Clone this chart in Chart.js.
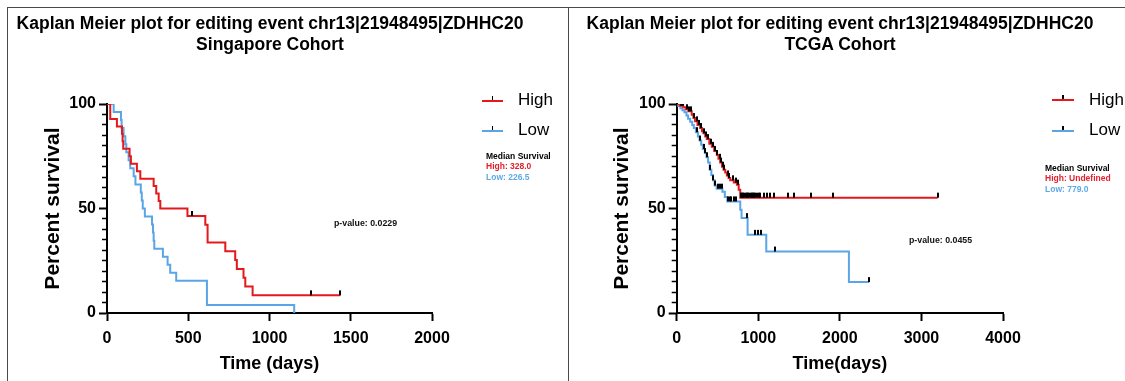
<!DOCTYPE html>
<html><head><meta charset="utf-8">
<script src="https://cdn.jsdelivr.net/npm/chart.js@4.4.0/dist/chart.umd.min.js"></script>
<style>
html,body{margin:0;padding:0;background:#fff;}
body{width:1125px;height:381px;position:relative;overflow:hidden;font-family:"Liberation Sans",Arial,Helvetica,sans-serif;}
canvas{position:absolute;top:0;}
#c1{left:0px;}
#c2{left:568px;}
.frame{position:absolute;border:0 solid #4a4a4a;pointer-events:none;}
.t{position:absolute;white-space:nowrap;color:#000;}
.title{font-weight:bold;font-size:17.5px;line-height:21px;text-align:center;transform:translateX(-50%);}
.leg{font-size:17px;line-height:20px;}
.med{font-weight:bold;font-size:8.5px;line-height:10.8px;}
.pv{font-weight:bold;font-size:8.8px;line-height:11px;color:#111;}
.ln{position:absolute;height:2px;}
.tk{position:absolute;width:1.6px;height:4px;background:#000;}
</style></head>
<body>
<canvas id="c1" width="568" height="381"></canvas>
<canvas id="c2" width="557" height="381"></canvas>

<div class="frame" style="left:7px;top:7px;width:560px;height:380px;border-left-width:1.5px;border-top-width:1.5px;border-right-width:1.5px;"></div>
<div class="frame" style="left:568px;top:7px;width:560px;height:380px;border-top-width:1.5px;"></div>

<div class="t title" style="left:270px;top:12.5px;">Kaplan Meier plot for editing event chr13|21948495|ZDHHC20<br>Singapore Cohort</div>
<div class="t title" style="left:840px;top:12.5px;">Kaplan Meier plot for editing event chr13|21948495|ZDHHC20<br>TCGA Cohort</div>

<div class="ln" style="left:482px;top:99.7px;width:21px;background:#e3191c;"></div>
<div class="tk" style="left:491.7px;top:96px;"></div>
<div class="t leg" style="left:518px;top:90px;">High</div>
<div class="ln" style="left:482px;top:129.7px;width:21px;background:#5aa5e8;"></div>
<div class="tk" style="left:491.7px;top:126px;"></div>
<div class="t leg" style="left:518px;top:120px;">Low</div>
<div class="t med" style="left:486px;top:150.6px;">Median Survival<br><span style="color:#e0212e">High: 328.0</span><br><span style="color:#5ea8e8">Low: 226.5</span></div>
<div class="t pv" style="left:334px;top:217.5px;">p-value: 0.0229</div>

<div class="ln" style="left:1052px;top:98.5px;width:22px;background:#e3191c;"></div>
<div class="tk" style="left:1062.2px;top:94.8px;"></div>
<div class="t leg" style="left:1089px;top:90px;">High</div>
<div class="ln" style="left:1052px;top:129.7px;width:22px;background:#5aa5e8;"></div>
<div class="tk" style="left:1062.2px;top:126px;"></div>
<div class="t leg" style="left:1089px;top:120px;">Low</div>
<div class="t med" style="left:1045px;top:162.6px;">Median Survival<br><span style="color:#e0212e">High: Undefined</span><br><span style="color:#5ea8e8">Low: 779.0</span></div>
<div class="t pv" style="left:909px;top:234.5px;">p-value: 0.0455</div>

<script>
// ---------- Singapore cohort ----------
const SG_HIGH_TIME = [0,20,61,92,96,100,139,147,184,205,287,303,318,328,495,605,619,728,789,799,840,851,896,1435];
const SG_HIGH_SURV = [100,92.86,89.29,85.71,82.14,78.57,75.0,71.43,67.86,64.29,60.71,57.14,53.57,50.0,46.43,42.21,33.77,29.55,25.33,21.11,16.88,12.66,8.44,8.44];
const SG_HIGH_CENSOR = [520,1256,1435];

const SG_LOW_TIME = [0,41,86,90,102,113,119,133,143,164,175,208,214,220,233,277,283,287,291,344,373,389,426,615,1152];
const SG_LOW_SURV = [100,96.15,92.31,88.46,84.62,80.77,76.92,73.08,69.23,65.38,61.54,57.69,53.85,50.0,46.15,42.31,38.46,34.62,30.77,26.92,23.08,19.23,15.38,3.85,0];
const SG_LOW_CENSOR = [];

// ---------- TCGA cohort ----------
const TCGA_HIGH_TIME = [0,40,80,110,143,184,205,225,255,287,310,328,350,369,400,431,460,492,512,533,555,574,595,615,636,656,700,738,760,779,3200];
const TCGA_HIGH_SURV = [100,99.2,98.4,97.5,96.5,94.9,93.3,91.7,90,88.5,87,86,84.5,83.2,81,79.5,77.5,75.6,73.8,72,70,68.6,67.2,65.8,64.6,63.5,62.4,61.4,59,55.2,55.2];
const TCGA_HIGH_CENSOR = [8,18,28,38,55,65,75,130,155,170,215,245,270,300,335,360,385,415,445,475,500,525,545,565,585,625,645,690,725,750,790,805,815,830,845,860,875,890,905,920,935,950,965,985,1005,1025,1066,1107,1148,1189,1366,1435,1648,1919,3200];

const TCGA_LOW_TIME = [0,20,45,70,95,120,140,165,190,210,235,260,280,300,320,345,365,385,405,425,445,465,490,560,590,620,779,795,869,1098,2111,2357];
const TCGA_LOW_SURV = [100,99,98,97,96,94.5,93,91.5,90,88.5,86.5,84.5,82.5,80.5,78.5,76.5,74.5,72,68.5,66,63.5,61,59.5,58,55.5,53.4,49.4,45.4,37.4,29.4,14.8,14.8];
const TCGA_LOW_CENSOR = [250,290,330,350,370,410,450,470,510,530,550,630,650,665,700,725,861,963,996,1037,1209,2357];

// axis ticks
const SG_X_MAX = 2000, SG_X_STEP = 500;
const TCGA_X_MAX = 4000, TCGA_X_STEP = 1000;
const Y_MAX = 100, Y_MINOR_STEP = 5;
const Y_LABELS = [0, 50, 100];

const RED = '#e3191c', BLUE = '#5aa5e8';
const FONT = '"Liberation Sans", Arial, Helvetica, sans-serif';

function pts(times, surv){ return times.map((t,i)=>({x:t,y:surv[i]})); }
// survival level of a step curve at time t (used to place censor ticks on the curve)
function levelAt(times, surv, t){ let s = surv[0]; for (let i=0;i<times.length;i++){ if (times[i] <= t) s = surv[i]; } return s; }
function censorPts(cens, times, surv){ return cens.map(t=>({x:t,y:levelAt(times,surv,t)})); }

function tickImg(h){
  const c = document.createElement('canvas');
  c.width = 2; c.height = h*2+2;
  const g = c.getContext('2d');
  g.fillStyle = '#000'; g.fillRect(0,1,2,h);
  return c;
}
const TICK = tickImg(5);
const isMajor = ctx => ctx.tick && Y_LABELS.includes(ctx.tick.value);

function makeChart(id, cfg){
  const ds = [];
  ds.push({label:'High censored', data:censorPts(cfg.hc,cfg.ht,cfg.hs), showLine:false, pointStyle:TICK, pointRadius:3, pointHoverRadius:3, borderColor:'#000', backgroundColor:'#000'});
  if (cfg.lc.length) ds.push({label:'Low censored', data:censorPts(cfg.lc,cfg.lt,cfg.ls), showLine:false, pointStyle:TICK, pointRadius:3, pointHoverRadius:3, borderColor:'#000', backgroundColor:'#000'});
  ds.push({label:'High', data:pts(cfg.ht,cfg.hs), stepped:true, borderColor:RED, borderWidth:2, pointRadius:0, fill:false, borderJoinStyle:'miter', borderCapStyle:'butt'});
  ds.push({label:'Low', data:pts(cfg.lt,cfg.ls), stepped:true, borderColor:BLUE, borderWidth:2, pointRadius:0, fill:false, borderJoinStyle:'miter', borderCapStyle:'butt'});
  return new Chart(document.getElementById(id), {
    type:'line',
    data:{datasets:ds},
    options:{
      responsive:false, animation:false, devicePixelRatio:1,
      layout:{padding:{left:0, top:104, right:cfg.padRight, bottom:0}},
      plugins:{legend:{display:false}, tooltip:{enabled:false}, title:{display:false}},
      scales:{
        x:{type:'linear', min:0, max:cfg.xmax,
           ticks:{stepSize:cfg.xstep, color:'#000', font:{family:FONT, size:16, weight:'bold'}, padding:8, maxRotation:0, autoSkip:false, callback:v=>String(v)},
           grid:{drawOnChartArea:false, drawTicks:true, tickLength:8, tickWidth:2, tickColor:'#000'},
           border:{display:true, color:'#000', width:2},
           title:{display:true, text:cfg.xtitle, color:'#000', font:{family:FONT, size:18, weight:'bold'}, padding:{top:0, bottom:6}},
           afterFit(s){ s.height = 68; }},
        y:{type:'linear', position:'left', min:0, max:Y_MAX,
           ticks:{stepSize:Y_MINOR_STEP, maxTicksLimit:30, autoSkip:false, color:'#000', font:{family:FONT, size:16, weight:'bold'}, padding:3,
                  callback:v=>Y_LABELS.includes(v) ? String(v) : ''},
           grid:{drawOnChartArea:false, drawTicks:true, tickLength:8,
                 tickWidth:ctx=>isMajor(ctx) ? 2 : 1.5,
                 tickBorderDash:ctx=>isMajor(ctx) ? [] : [0, 3, 5, 30],
                 tickColor:'#000'},
           border:{display:true, color:'#000', width:2},
           title:{display:true, text:'Percent survival', color:'#000', font:{family:FONT, size:21, weight:'bold'}, padding:{top:cfg.ytPad, bottom:0}},
           afterFit(s){ s.width = cfg.yWidth; }}
      }
    }
  });
}

makeChart('c1', {ht:SG_HIGH_TIME, hs:SG_HIGH_SURV, hc:SG_HIGH_CENSOR, lt:SG_LOW_TIME, ls:SG_LOW_SURV, lc:SG_LOW_CENSOR,
  xmax:SG_X_MAX, xstep:SG_X_STEP, xtitle:'Time (days)', padRight:136, yWidth:107, ytPad:41});
makeChart('c2', {ht:TCGA_HIGH_TIME, hs:TCGA_HIGH_SURV, hc:TCGA_HIGH_CENSOR, lt:TCGA_LOW_TIME, ls:TCGA_LOW_SURV, lc:TCGA_LOW_CENSOR,
  xmax:TCGA_X_MAX, xstep:TCGA_X_STEP, xtitle:'Time(days)', padRight:122, yWidth:108.7, ytPad:42});
</script>
</body></html>
